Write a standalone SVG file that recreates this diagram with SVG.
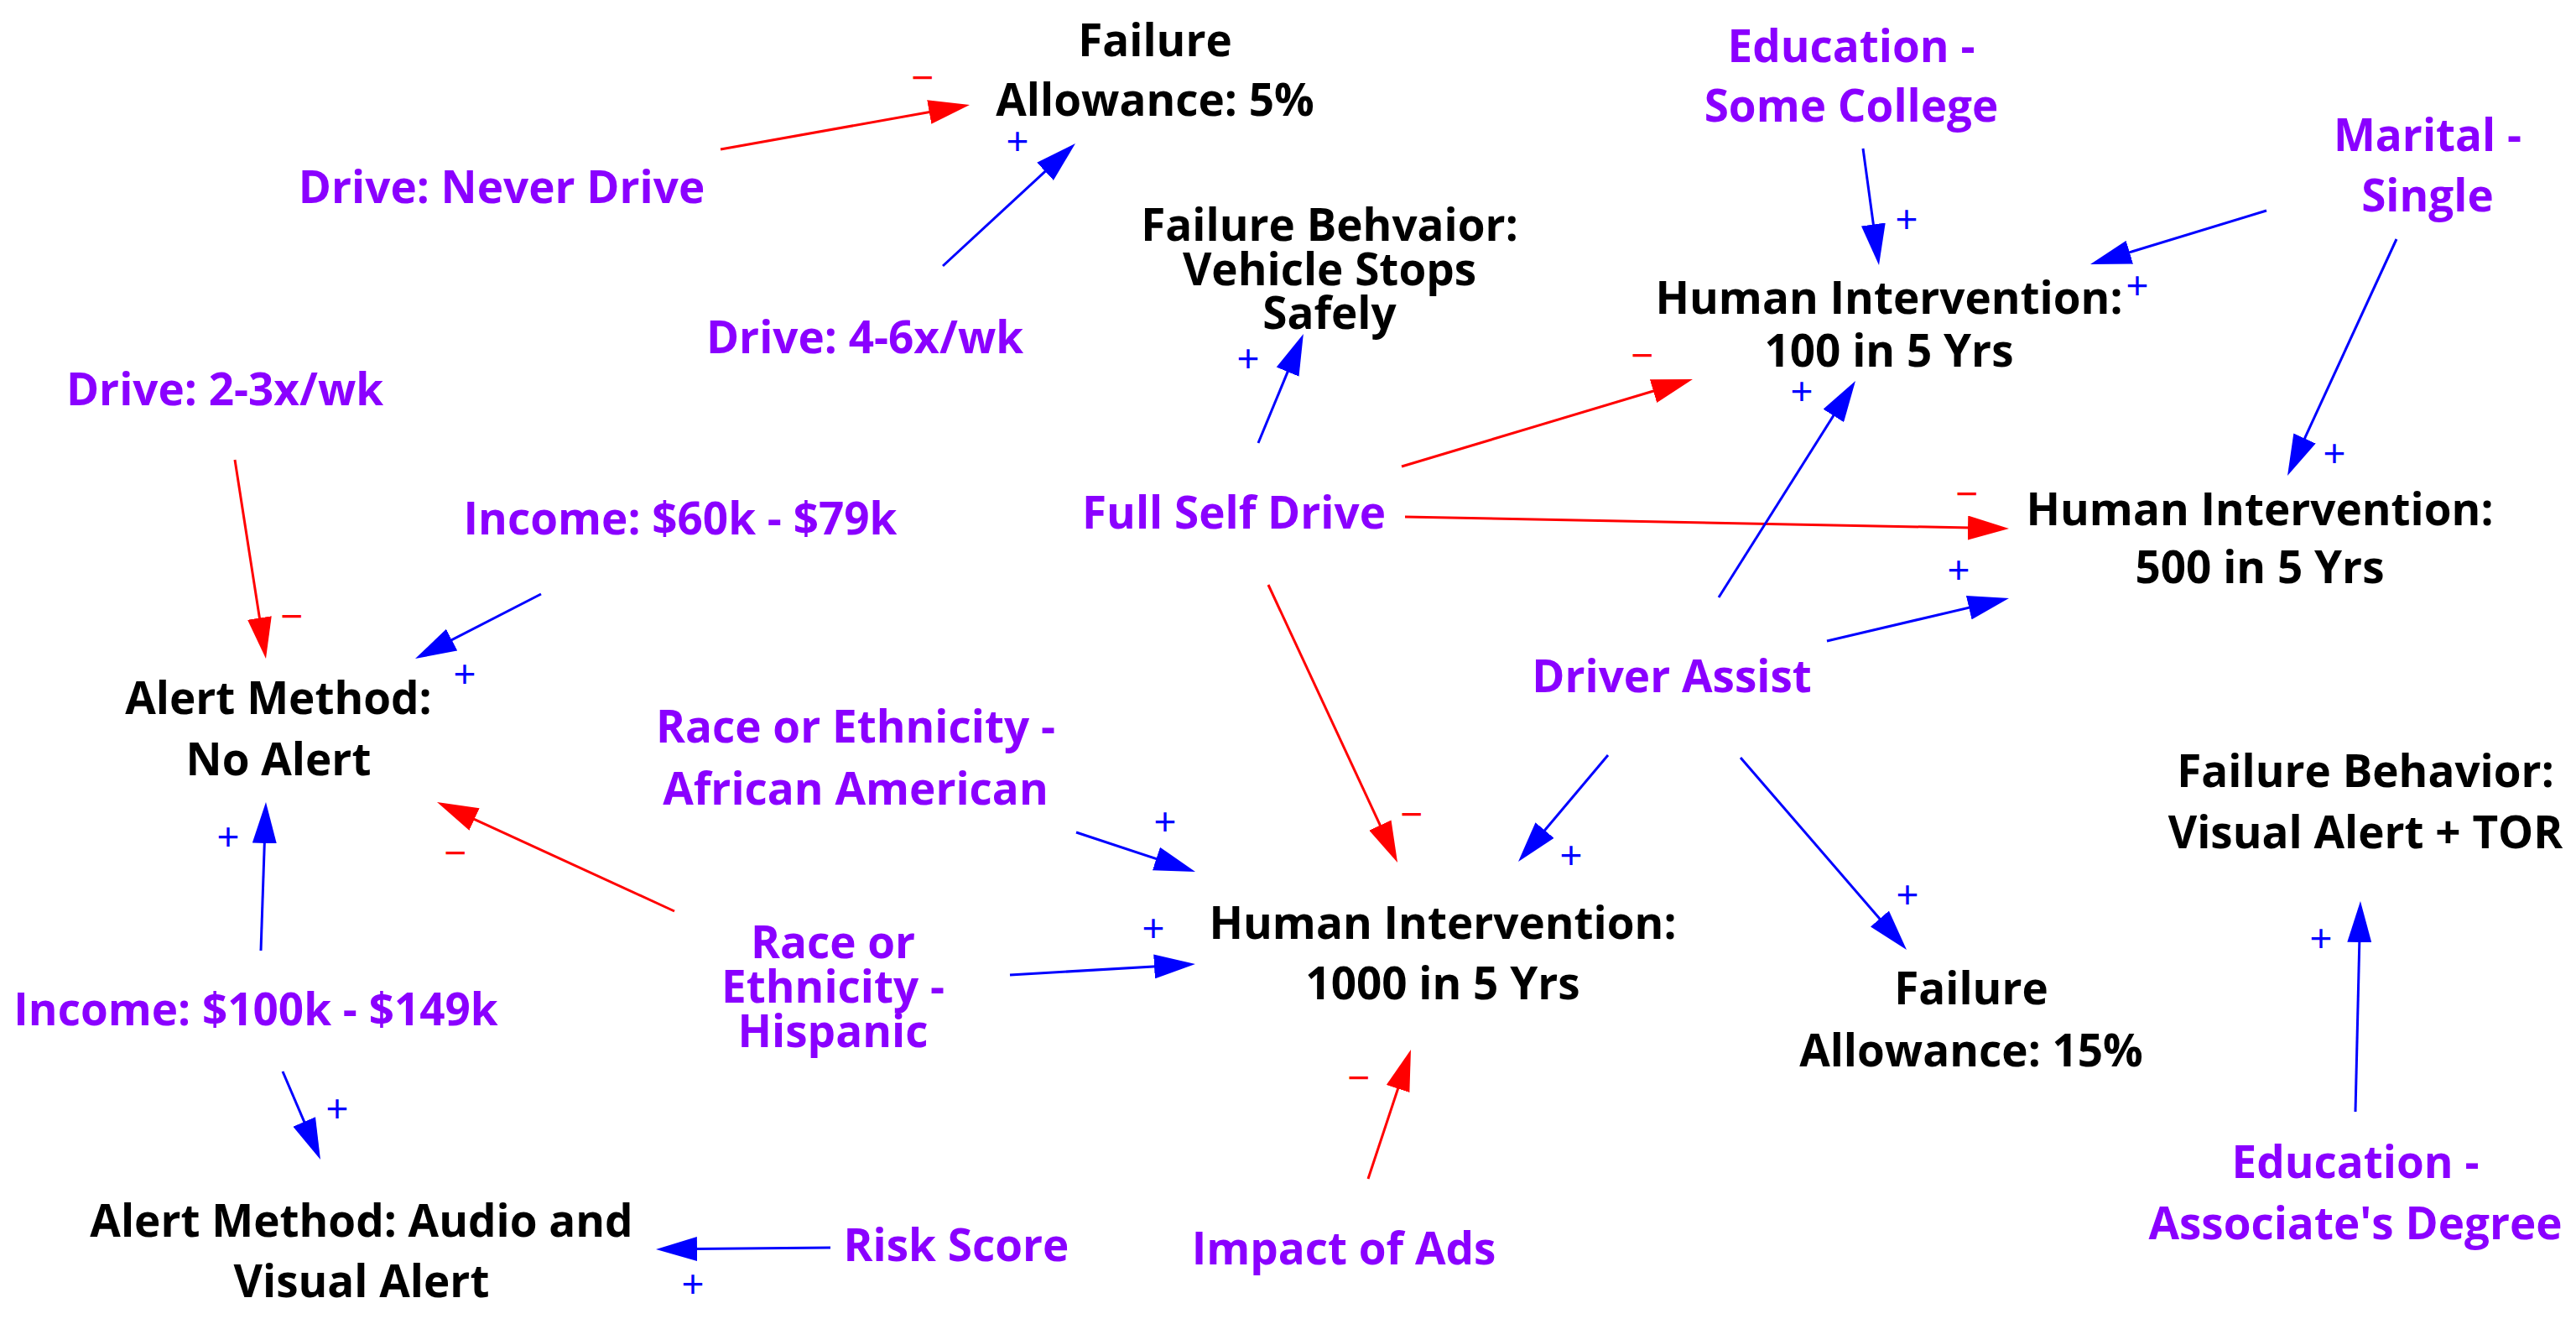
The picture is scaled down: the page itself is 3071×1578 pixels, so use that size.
<svg xmlns="http://www.w3.org/2000/svg" width="3071" height="1578" viewBox="0 0 3071 1578">
<style>
.t{font-family:"Open Sans","Noto Sans","Liberation Sans",sans-serif;font-weight:700;font-size:53px;text-anchor:middle}
.k{fill:#000}
.p{fill:#8a00ff}
.s{font-family:"Liberation Sans",Arial,sans-serif;font-size:46px;text-anchor:middle}
.sp{fill:#0000ff}
.sm{fill:#ff0000}
.lb{stroke:#0000ff;stroke-width:3;fill:none;marker-end:url(#ab)}
.lr{stroke:#ff0000;stroke-width:3;fill:none;marker-end:url(#ar)}
</style>
<defs>
<marker id="ab" viewBox="0 0 49 29" refX="29" refY="14.5" markerWidth="49" markerHeight="29" markerUnits="userSpaceOnUse" orient="auto"><path d="M0,0 L49,14.5 L0,29 Z" fill="#0000ff"/></marker>
<marker id="ar" viewBox="0 0 49 29" refX="29" refY="14.5" markerWidth="49" markerHeight="29" markerUnits="userSpaceOnUse" orient="auto"><path d="M0,0 L49,14.5 L0,29 Z" fill="#ff0000"/></marker>
</defs>
<rect width="3071" height="1578" fill="#fff"/>
<g id="connectors">
<line class="lr" x1="859" y1="178" x2="1136.3" y2="128.5"/>
<line class="lb" x1="1124" y1="317" x2="1267.3" y2="184.6"/>
<line class="lb" x1="1500" y1="528" x2="1546.2" y2="416.4"/>
<line class="lr" x1="1671" y1="556" x2="1998.8" y2="457.7"/>
<line class="lr" x1="1675" y1="616" x2="2375" y2="629.6"/>
<line class="lr" x1="1512" y1="697" x2="1657.6" y2="1009.9"/>
<line class="lb" x1="2221" y1="177" x2="2237.3" y2="296.2"/>
<line class="lb" x1="2702" y1="251" x2="2511.1" y2="309.2"/>
<line class="lb" x1="2857" y1="285" x2="2735.4" y2="548.8"/>
<line class="lb" x1="2049" y1="712" x2="2201.3" y2="470.9"/>
<line class="lb" x1="2178" y1="764" x2="2375.5" y2="717.6"/>
<line class="lb" x1="1917" y1="900" x2="1822.9" y2="1011.7"/>
<line class="lb" x1="2075" y1="903" x2="2259.9" y2="1116.9"/>
<line class="lr" x1="280" y1="548" x2="313.9" y2="765.2"/>
<line class="lb" x1="645" y1="708" x2="512.8" y2="775.9"/>
<line class="lr" x1="804" y1="1086" x2="539.2" y2="964.4"/>
<line class="lb" x1="311" y1="1133" x2="316.3" y2="976"/>
<line class="lb" x1="1283" y1="992" x2="1406" y2="1032.7"/>
<line class="lb" x1="1204" y1="1162" x2="1405" y2="1150.2"/>
<line class="lr" x1="1631" y1="1405" x2="1675.7" y2="1270"/>
<line class="lb" x1="337" y1="1277" x2="374.1" y2="1363.6"/>
<line class="lb" x1="990" y1="1487" x2="802" y2="1488.8"/>
<line class="lb" x1="2808" y1="1325" x2="2813.5" y2="1094"/>
<text class="s sm" x="1100" y="108">−</text>
<text class="s sp" x="1213" y="184">+</text>
<text class="s sp" x="1488" y="443">+</text>
<text class="s sm" x="1958" y="439">−</text>
<text class="s sm" x="2345" y="604">−</text>
<text class="s sm" x="1683" y="986">−</text>
<text class="s sp" x="2273" y="277">+</text>
<text class="s sp" x="2548" y="356">+</text>
<text class="s sp" x="2783" y="556">+</text>
<text class="s sp" x="2148" y="482">+</text>
<text class="s sp" x="2335" y="695">+</text>
<text class="s sp" x="1873" y="1035">+</text>
<text class="s sp" x="2274" y="1082">+</text>
<text class="s sm" x="348" y="750">−</text>
<text class="s sp" x="554" y="819">+</text>
<text class="s sm" x="543" y="1032">−</text>
<text class="s sp" x="272" y="1013">+</text>
<text class="s sp" x="1389" y="995">+</text>
<text class="s sp" x="1375" y="1122">+</text>
<text class="s sm" x="1620" y="1300">−</text>
<text class="s sp" x="402" y="1337">+</text>
<text class="s sp" x="826" y="1546">+</text>
<text class="s sp" x="2767" y="1134">+</text>
</g>
<g id="n-failure5" class="t k"><text x="1377" y="67">Failure</text><text x="1377" y="138">Allowance: 5%</text></g>
<g id="n-fb-vehicle" class="t k"><text x="1585" y="287">Failure Behvaior:</text><text x="1585" y="340">Vehicle Stops</text><text x="1585" y="392">Safely</text></g>
<g id="n-hi100" class="t k"><text x="2252" y="374">Human Intervention:</text><text x="2252" y="437">100 in 5 Yrs</text></g>
<g id="n-hi500" class="t k"><text x="2694" y="626">Human Intervention:</text><text x="2694" y="695">500 in 5 Yrs</text></g>
<g id="n-noalert" class="t k"><text x="332" y="851">Alert Method:</text><text x="332" y="924">No Alert</text></g>
<g id="n-hi1000" class="t k"><text x="1720" y="1119">Human Intervention:</text><text x="1720" y="1191">1000 in 5 Yrs</text></g>
<g id="n-fb-visual" class="t k"><text x="2820" y="938">Failure Behavior:</text><text x="2820" y="1011">Visual Alert + TOR</text></g>
<g id="n-failure15" class="t k"><text x="2350" y="1197">Failure</text><text x="2350" y="1271">Allowance: 15%</text></g>
<g id="n-audio" class="t k"><text x="431" y="1474">Alert Method: Audio and</text><text x="431" y="1546">Visual Alert</text></g>
<g id="n-never" class="t p"><text x="598" y="242">Drive: Never Drive</text></g>
<g id="n-46" class="t p"><text x="1031" y="421">Drive: 4-6x/wk</text></g>
<g id="n-23" class="t p"><text x="268" y="483">Drive: 2-3x/wk</text></g>
<g id="n-inc60" class="t p"><text x="811" y="637">Income: $60k - $79k</text></g>
<g id="n-fsd" class="t p"><text x="1471" y="630">Full Self Drive</text></g>
<g id="n-edu-some" class="t p"><text x="2207" y="74">Education -</text><text x="2207" y="145">Some College</text></g>
<g id="n-marital" class="t p"><text x="2894" y="180">Marital -</text><text x="2894" y="252">Single</text></g>
<g id="n-da" class="t p"><text x="1993" y="825">Driver Assist</text></g>
<g id="n-race-aa" class="t p"><text x="1020" y="885">Race or Ethnicity -</text><text x="1020" y="959">African American</text></g>
<g id="n-race-hisp" class="t p"><text x="993" y="1142">Race or</text><text x="993" y="1195">Ethnicity -</text><text x="993" y="1248">Hispanic</text></g>
<g id="n-inc100" class="t p"><text x="305" y="1222">Income: $100k - $149k</text></g>
<g id="n-risk" class="t p"><text x="1140" y="1503">Risk Score</text></g>
<g id="n-ads" class="t p"><text x="1602" y="1507">Impact of Ads</text></g>
<g id="n-edu-assoc" class="t p"><text x="2808" y="1404">Education -</text><text x="2808" y="1477">Associate's Degree</text></g>
</svg>
